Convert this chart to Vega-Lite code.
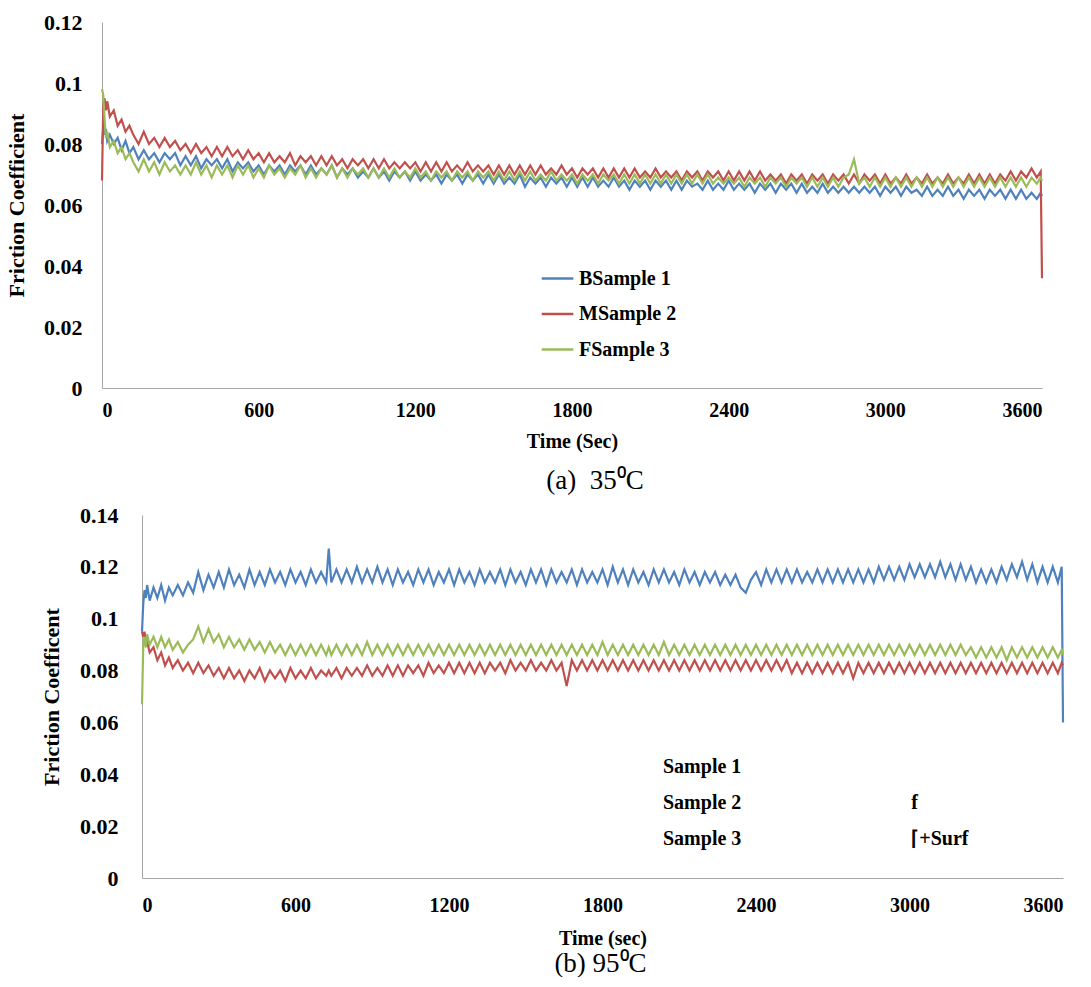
{
"$schema": "https://vega.github.io/schema/vega-lite/v6.json",
"padding": {"left": 0, "top": 11, "right": 0, "bottom": 0},
"spacing": 10,
"resolve": {"scale": {"color": "independent"}, "legend": {"color": "independent"}},
"config": {
 "view": {"stroke": null},
 "axis": {"labelFont": "Liberation Serif", "titleFont": "Liberation Serif", "labelFontWeight": "bold", "titleFontWeight": "bold", "labelColor": "#000", "titleColor": "#000", "ticks": false, "grid": false, "domainColor": "#A6A6A6", "domainWidth": 1},
 "legend": {"labelFont": "Liberation Serif", "labelFontWeight": "bold", "labelFontSize": 20, "labelColor": "#000", "labelLimit": 600},
 "title": {"font": "Liberation Serif", "fontWeight": "normal", "color": "#000"}
},
"datasets": {
"top": [
{"t":0,"S1":0.080,"S2":0.068,"S3":0.098},
{"t":5,"S1":0.086,"S2":0.093,"S3":0.096},
{"t":10,"S1":0.083,"S2":0.095,"S3":0.088},
{"t":15,"S1":0.085,"S2":0.091,"S3":0.082},
{"t":20,"S1":0.081,"S2":0.094,"S3":0.084},
{"t":30,"S1":0.083,"S2":0.089,"S3":0.079},
{"t":45,"S1":0.080,"S2":0.091,"S3":0.081},
{"t":60,"S1":0.082,"S2":0.086,"S3":0.077},
{"t":75,"S1":0.078,"S2":0.088,"S3":0.079},
{"t":90,"S1":0.081,"S2":0.084,"S3":0.075},
{"t":105,"S1":0.077,"S2":0.086,"S3":0.077},
{"t":120,"S1":0.079,"S2":0.083,"S3":0.074},
{"t":140,"S1":0.075,"S2":0.080,"S3":0.071},
{"t":160,"S1":0.078,"S2":0.084,"S3":0.075},
{"t":180,"S1":0.075,"S2":0.080,"S3":0.071},
{"t":200,"S1":0.077,"S2":0.082,"S3":0.074},
{"t":220,"S1":0.074,"S2":0.079,"S3":0.070},
{"t":240,"S1":0.077,"S2":0.082,"S3":0.074},
{"t":260,"S1":0.075,"S2":0.079,"S3":0.071},
{"t":280,"S1":0.077,"S2":0.081,"S3":0.073},
{"t":300,"S1":0.073,"S2":0.078,"S3":0.070},
{"t":320,"S1":0.076,"S2":0.080,"S3":0.073},
{"t":340,"S1":0.073,"S2":0.077,"S3":0.070},
{"t":360,"S1":0.076,"S2":0.080,"S3":0.074},
{"t":380,"S1":0.072,"S2":0.077,"S3":0.070},
{"t":400,"S1":0.075,"S2":0.079,"S3":0.073},
{"t":420,"S1":0.073,"S2":0.076,"S3":0.069},
{"t":440,"S1":0.075,"S2":0.079,"S3":0.073},
{"t":460,"S1":0.072,"S2":0.076,"S3":0.070},
{"t":480,"S1":0.075,"S2":0.079,"S3":0.073},
{"t":500,"S1":0.071,"S2":0.076,"S3":0.069},
{"t":520,"S1":0.074,"S2":0.078,"S3":0.073},
{"t":540,"S1":0.072,"S2":0.075,"S3":0.070},
{"t":560,"S1":0.074,"S2":0.078,"S3":0.073},
{"t":580,"S1":0.071,"S2":0.075,"S3":0.069},
{"t":600,"S1":0.073,"S2":0.077,"S3":0.072},
{"t":620,"S1":0.070,"S2":0.074,"S3":0.069},
{"t":640,"S1":0.073,"S2":0.077,"S3":0.073},
{"t":660,"S1":0.071,"S2":0.074,"S3":0.070},
{"t":680,"S1":0.073,"S2":0.076,"S3":0.072},
{"t":700,"S1":0.070,"S2":0.074,"S3":0.069},
{"t":720,"S1":0.073,"S2":0.077,"S3":0.072},
{"t":740,"S1":0.071,"S2":0.073,"S3":0.070},
{"t":760,"S1":0.073,"S2":0.076,"S3":0.073},
{"t":780,"S1":0.070,"S2":0.074,"S3":0.069},
{"t":800,"S1":0.073,"S2":0.076,"S3":0.072},
{"t":820,"S1":0.070,"S2":0.073,"S3":0.069},
{"t":840,"S1":0.072,"S2":0.076,"S3":0.072},
{"t":860,"S1":0.070,"S2":0.073,"S3":0.070},
{"t":880,"S1":0.073,"S2":0.076,"S3":0.073},
{"t":900,"S1":0.069,"S2":0.073,"S3":0.069},
{"t":920,"S1":0.072,"S2":0.075,"S3":0.072},
{"t":940,"S1":0.070,"S2":0.072,"S3":0.069},
{"t":960,"S1":0.072,"S2":0.075,"S3":0.072},
{"t":980,"S1":0.069,"S2":0.073,"S3":0.070},
{"t":1000,"S1":0.071,"S2":0.075,"S3":0.072},
{"t":1020,"S1":0.069,"S2":0.072,"S3":0.069},
{"t":1040,"S1":0.072,"S2":0.075,"S3":0.072},
{"t":1060,"S1":0.069,"S2":0.072,"S3":0.069},
{"t":1080,"S1":0.071,"S2":0.075,"S3":0.072},
{"t":1100,"S1":0.068,"S2":0.072,"S3":0.069},
{"t":1120,"S1":0.071,"S2":0.074,"S3":0.072},
{"t":1140,"S1":0.069,"S2":0.072,"S3":0.069},
{"t":1160,"S1":0.071,"S2":0.074,"S3":0.071},
{"t":1180,"S1":0.068,"S2":0.072,"S3":0.069},
{"t":1200,"S1":0.071,"S2":0.074,"S3":0.072},
{"t":1220,"S1":0.068,"S2":0.071,"S3":0.069},
{"t":1240,"S1":0.070,"S2":0.074,"S3":0.071},
{"t":1260,"S1":0.068,"S2":0.071,"S3":0.068},
{"t":1280,"S1":0.070,"S2":0.074,"S3":0.071},
{"t":1300,"S1":0.067,"S2":0.071,"S3":0.069},
{"t":1320,"S1":0.070,"S2":0.074,"S3":0.071},
{"t":1340,"S1":0.068,"S2":0.071,"S3":0.068},
{"t":1360,"S1":0.070,"S2":0.073,"S3":0.071},
{"t":1380,"S1":0.067,"S2":0.071,"S3":0.069},
{"t":1400,"S1":0.070,"S2":0.074,"S3":0.071},
{"t":1420,"S1":0.068,"S2":0.071,"S3":0.068},
{"t":1440,"S1":0.070,"S2":0.073,"S3":0.071},
{"t":1460,"S1":0.067,"S2":0.071,"S3":0.069},
{"t":1480,"S1":0.070,"S2":0.073,"S3":0.071},
{"t":1500,"S1":0.067,"S2":0.070,"S3":0.068},
{"t":1520,"S1":0.070,"S2":0.073,"S3":0.071},
{"t":1540,"S1":0.067,"S2":0.070,"S3":0.068},
{"t":1560,"S1":0.069,"S2":0.073,"S3":0.071},
{"t":1580,"S1":0.067,"S2":0.070,"S3":0.068},
{"t":1600,"S1":0.070,"S2":0.073,"S3":0.071},
{"t":1620,"S1":0.066,"S2":0.070,"S3":0.068},
{"t":1640,"S1":0.069,"S2":0.073,"S3":0.071},
{"t":1660,"S1":0.067,"S2":0.070,"S3":0.068},
{"t":1680,"S1":0.069,"S2":0.073,"S3":0.070},
{"t":1700,"S1":0.066,"S2":0.070,"S3":0.068},
{"t":1720,"S1":0.069,"S2":0.072,"S3":0.071},
{"t":1740,"S1":0.067,"S2":0.070,"S3":0.068},
{"t":1760,"S1":0.069,"S2":0.073,"S3":0.070},
{"t":1780,"S1":0.066,"S2":0.070,"S3":0.068},
{"t":1800,"S1":0.069,"S2":0.072,"S3":0.070},
{"t":1820,"S1":0.066,"S2":0.069,"S3":0.067},
{"t":1840,"S1":0.069,"S2":0.072,"S3":0.070},
{"t":1860,"S1":0.066,"S2":0.070,"S3":0.068},
{"t":1880,"S1":0.069,"S2":0.072,"S3":0.070},
{"t":1900,"S1":0.066,"S2":0.069,"S3":0.067},
{"t":1920,"S1":0.068,"S2":0.072,"S3":0.070},
{"t":1940,"S1":0.066,"S2":0.069,"S3":0.068},
{"t":1960,"S1":0.069,"S2":0.072,"S3":0.070},
{"t":1980,"S1":0.066,"S2":0.069,"S3":0.067},
{"t":2000,"S1":0.068,"S2":0.072,"S3":0.070},
{"t":2020,"S1":0.065,"S2":0.069,"S3":0.067},
{"t":2040,"S1":0.068,"S2":0.072,"S3":0.070},
{"t":2060,"S1":0.066,"S2":0.069,"S3":0.067},
{"t":2080,"S1":0.068,"S2":0.071,"S3":0.070},
{"t":2100,"S1":0.065,"S2":0.069,"S3":0.067},
{"t":2120,"S1":0.068,"S2":0.072,"S3":0.070},
{"t":2140,"S1":0.066,"S2":0.069,"S3":0.067},
{"t":2160,"S1":0.068,"S2":0.071,"S3":0.070},
{"t":2180,"S1":0.065,"S2":0.069,"S3":0.067},
{"t":2200,"S1":0.068,"S2":0.071,"S3":0.070},
{"t":2220,"S1":0.065,"S2":0.068,"S3":0.067},
{"t":2240,"S1":0.068,"S2":0.071,"S3":0.070},
{"t":2260,"S1":0.066,"S2":0.069,"S3":0.067},
{"t":2280,"S1":0.067,"S2":0.071,"S3":0.070},
{"t":2300,"S1":0.065,"S2":0.068,"S3":0.067},
{"t":2320,"S1":0.068,"S2":0.071,"S3":0.070},
{"t":2340,"S1":0.065,"S2":0.069,"S3":0.067},
{"t":2360,"S1":0.067,"S2":0.071,"S3":0.069},
{"t":2380,"S1":0.065,"S2":0.068,"S3":0.067},
{"t":2400,"S1":0.068,"S2":0.071,"S3":0.069},
{"t":2420,"S1":0.065,"S2":0.068,"S3":0.067},
{"t":2440,"S1":0.067,"S2":0.071,"S3":0.069},
{"t":2460,"S1":0.065,"S2":0.068,"S3":0.066},
{"t":2480,"S1":0.067,"S2":0.071,"S3":0.069},
{"t":2500,"S1":0.064,"S2":0.068,"S3":0.067},
{"t":2520,"S1":0.067,"S2":0.071,"S3":0.069},
{"t":2540,"S1":0.065,"S2":0.068,"S3":0.066},
{"t":2560,"S1":0.067,"S2":0.070,"S3":0.069},
{"t":2580,"S1":0.064,"S2":0.068,"S3":0.067},
{"t":2600,"S1":0.067,"S2":0.070,"S3":0.069},
{"t":2620,"S1":0.065,"S2":0.067,"S3":0.066},
{"t":2640,"S1":0.067,"S2":0.070,"S3":0.069},
{"t":2660,"S1":0.064,"S2":0.068,"S3":0.067},
{"t":2680,"S1":0.067,"S2":0.070,"S3":0.069},
{"t":2700,"S1":0.064,"S2":0.067,"S3":0.066},
{"t":2720,"S1":0.066,"S2":0.070,"S3":0.069},
{"t":2740,"S1":0.064,"S2":0.068,"S3":0.066},
{"t":2760,"S1":0.067,"S2":0.070,"S3":0.069},
{"t":2780,"S1":0.064,"S2":0.067,"S3":0.066},
{"t":2800,"S1":0.066,"S2":0.070,"S3":0.069},
{"t":2820,"S1":0.064,"S2":0.068,"S3":0.066},
{"t":2840,"S1":0.066,"S2":0.070,"S3":0.069},
{"t":2860,"S1":0.064,"S2":0.067,"S3":0.070},
{"t":2880,"S1":0.066,"S2":0.070,"S3":0.075},
{"t":2900,"S1":0.064,"S2":0.067,"S3":0.067},
{"t":2920,"S1":0.066,"S2":0.070,"S3":0.069},
{"t":2940,"S1":0.064,"S2":0.068,"S3":0.066},
{"t":2960,"S1":0.066,"S2":0.070,"S3":0.069},
{"t":2980,"S1":0.063,"S2":0.067,"S3":0.066},
{"t":3000,"S1":0.066,"S2":0.070,"S3":0.069},
{"t":3020,"S1":0.064,"S2":0.067,"S3":0.066},
{"t":3040,"S1":0.066,"S2":0.069,"S3":0.069},
{"t":3060,"S1":0.063,"S2":0.067,"S3":0.066},
{"t":3080,"S1":0.066,"S2":0.070,"S3":0.069},
{"t":3100,"S1":0.064,"S2":0.067,"S3":0.066},
{"t":3120,"S1":0.065,"S2":0.069,"S3":0.069},
{"t":3140,"S1":0.063,"S2":0.067,"S3":0.066},
{"t":3160,"S1":0.066,"S2":0.070,"S3":0.069},
{"t":3180,"S1":0.063,"S2":0.067,"S3":0.066},
{"t":3200,"S1":0.065,"S2":0.069,"S3":0.069},
{"t":3220,"S1":0.063,"S2":0.067,"S3":0.066},
{"t":3240,"S1":0.066,"S2":0.070,"S3":0.069},
{"t":3260,"S1":0.063,"S2":0.067,"S3":0.066},
{"t":3280,"S1":0.065,"S2":0.069,"S3":0.069},
{"t":3300,"S1":0.062,"S2":0.067,"S3":0.066},
{"t":3320,"S1":0.065,"S2":0.070,"S3":0.069},
{"t":3340,"S1":0.063,"S2":0.067,"S3":0.066},
{"t":3360,"S1":0.065,"S2":0.070,"S3":0.069},
{"t":3380,"S1":0.062,"S2":0.067,"S3":0.066},
{"t":3400,"S1":0.065,"S2":0.070,"S3":0.069},
{"t":3420,"S1":0.063,"S2":0.067,"S3":0.066},
{"t":3440,"S1":0.065,"S2":0.070,"S3":0.069},
{"t":3460,"S1":0.062,"S2":0.068,"S3":0.066},
{"t":3480,"S1":0.065,"S2":0.071,"S3":0.069},
{"t":3500,"S1":0.062,"S2":0.068,"S3":0.066},
{"t":3520,"S1":0.065,"S2":0.071,"S3":0.069},
{"t":3540,"S1":0.062,"S2":0.069,"S3":0.066},
{"t":3560,"S1":0.064,"S2":0.072,"S3":0.069},
{"t":3580,"S1":0.062,"S2":0.069,"S3":0.067},
{"t":3595,"S1":0.064,"S2":0.071,"S3":0.069},
{"t":3600,"S1":0.063,"S2":0.036,"S3":0.068}
],
"bottom": [
{"t":0,"S1":0.095,"S2":0.095,"S3":0.067},
{"t":5,"S1":0.106,"S2":0.093,"S3":0.090},
{"t":10,"S1":0.111,"S2":0.095,"S3":0.093},
{"t":15,"S1":0.108,"S2":0.090,"S3":0.089},
{"t":20,"S1":0.113,"S2":0.091,"S3":0.094},
{"t":30,"S1":0.107,"S2":0.087,"S3":0.090},
{"t":45,"S1":0.112,"S2":0.089,"S3":0.093},
{"t":60,"S1":0.108,"S2":0.084,"S3":0.089},
{"t":75,"S1":0.113,"S2":0.087,"S3":0.093},
{"t":90,"S1":0.107,"S2":0.082,"S3":0.089},
{"t":105,"S1":0.112,"S2":0.085,"S3":0.092},
{"t":120,"S1":0.109,"S2":0.081,"S3":0.088},
{"t":140,"S1":0.113,"S2":0.084,"S3":0.091},
{"t":160,"S1":0.109,"S2":0.080,"S3":0.087},
{"t":180,"S1":0.114,"S2":0.083,"S3":0.090},
{"t":200,"S1":0.110,"S2":0.079,"S3":0.092},
{"t":220,"S1":0.118,"S2":0.083,"S3":0.097},
{"t":240,"S1":0.111,"S2":0.079,"S3":0.091},
{"t":260,"S1":0.117,"S2":0.082,"S3":0.096},
{"t":280,"S1":0.112,"S2":0.078,"S3":0.091},
{"t":300,"S1":0.118,"S2":0.081,"S3":0.094},
{"t":320,"S1":0.112,"S2":0.077,"S3":0.089},
{"t":340,"S1":0.119,"S2":0.081,"S3":0.093},
{"t":360,"S1":0.113,"S2":0.077,"S3":0.089},
{"t":380,"S1":0.117,"S2":0.080,"S3":0.092},
{"t":400,"S1":0.112,"S2":0.076,"S3":0.088},
{"t":420,"S1":0.119,"S2":0.080,"S3":0.092},
{"t":440,"S1":0.113,"S2":0.077,"S3":0.088},
{"t":460,"S1":0.118,"S2":0.081,"S3":0.091},
{"t":480,"S1":0.113,"S2":0.076,"S3":0.087},
{"t":500,"S1":0.119,"S2":0.080,"S3":0.091},
{"t":520,"S1":0.114,"S2":0.077,"S3":0.087},
{"t":540,"S1":0.118,"S2":0.080,"S3":0.090},
{"t":560,"S1":0.113,"S2":0.076,"S3":0.086},
{"t":580,"S1":0.119,"S2":0.081,"S3":0.090},
{"t":600,"S1":0.114,"S2":0.077,"S3":0.086},
{"t":620,"S1":0.118,"S2":0.080,"S3":0.090},
{"t":640,"S1":0.113,"S2":0.077,"S3":0.086},
{"t":660,"S1":0.119,"S2":0.081,"S3":0.090},
{"t":680,"S1":0.114,"S2":0.077,"S3":0.086},
{"t":700,"S1":0.118,"S2":0.080,"S3":0.090},
{"t":720,"S1":0.114,"S2":0.078,"S3":0.086},
{"t":730,"S1":0.127,"S2":0.080,"S3":0.089},
{"t":740,"S1":0.114,"S2":0.078,"S3":0.086},
{"t":760,"S1":0.119,"S2":0.081,"S3":0.090},
{"t":780,"S1":0.114,"S2":0.077,"S3":0.086},
{"t":800,"S1":0.119,"S2":0.081,"S3":0.090},
{"t":820,"S1":0.114,"S2":0.078,"S3":0.086},
{"t":840,"S1":0.120,"S2":0.081,"S3":0.090},
{"t":860,"S1":0.114,"S2":0.078,"S3":0.086},
{"t":880,"S1":0.119,"S2":0.082,"S3":0.091},
{"t":900,"S1":0.114,"S2":0.078,"S3":0.086},
{"t":920,"S1":0.120,"S2":0.081,"S3":0.090},
{"t":940,"S1":0.114,"S2":0.078,"S3":0.086},
{"t":960,"S1":0.119,"S2":0.082,"S3":0.090},
{"t":980,"S1":0.113,"S2":0.078,"S3":0.086},
{"t":1000,"S1":0.119,"S2":0.082,"S3":0.090},
{"t":1020,"S1":0.114,"S2":0.078,"S3":0.086},
{"t":1040,"S1":0.118,"S2":0.082,"S3":0.090},
{"t":1060,"S1":0.113,"S2":0.079,"S3":0.086},
{"t":1080,"S1":0.119,"S2":0.082,"S3":0.090},
{"t":1100,"S1":0.114,"S2":0.078,"S3":0.086},
{"t":1120,"S1":0.119,"S2":0.083,"S3":0.090},
{"t":1140,"S1":0.113,"S2":0.079,"S3":0.086},
{"t":1160,"S1":0.118,"S2":0.082,"S3":0.090},
{"t":1180,"S1":0.114,"S2":0.079,"S3":0.086},
{"t":1200,"S1":0.119,"S2":0.083,"S3":0.090},
{"t":1220,"S1":0.113,"S2":0.079,"S3":0.086},
{"t":1240,"S1":0.119,"S2":0.083,"S3":0.090},
{"t":1260,"S1":0.114,"S2":0.079,"S3":0.086},
{"t":1280,"S1":0.118,"S2":0.083,"S3":0.090},
{"t":1300,"S1":0.113,"S2":0.079,"S3":0.086},
{"t":1320,"S1":0.119,"S2":0.083,"S3":0.090},
{"t":1340,"S1":0.114,"S2":0.079,"S3":0.086},
{"t":1360,"S1":0.118,"S2":0.083,"S3":0.090},
{"t":1380,"S1":0.114,"S2":0.080,"S3":0.086},
{"t":1400,"S1":0.119,"S2":0.083,"S3":0.090},
{"t":1420,"S1":0.113,"S2":0.079,"S3":0.086},
{"t":1440,"S1":0.119,"S2":0.084,"S3":0.090},
{"t":1460,"S1":0.114,"S2":0.080,"S3":0.086},
{"t":1480,"S1":0.118,"S2":0.083,"S3":0.090},
{"t":1500,"S1":0.113,"S2":0.080,"S3":0.086},
{"t":1520,"S1":0.119,"S2":0.084,"S3":0.090},
{"t":1540,"S1":0.114,"S2":0.080,"S3":0.086},
{"t":1560,"S1":0.119,"S2":0.083,"S3":0.090},
{"t":1580,"S1":0.113,"S2":0.080,"S3":0.086},
{"t":1600,"S1":0.119,"S2":0.084,"S3":0.090},
{"t":1620,"S1":0.114,"S2":0.080,"S3":0.086},
{"t":1640,"S1":0.118,"S2":0.083,"S3":0.090},
{"t":1660,"S1":0.114,"S2":0.074,"S3":0.086},
{"t":1680,"S1":0.119,"S2":0.084,"S3":0.090},
{"t":1700,"S1":0.113,"S2":0.080,"S3":0.086},
{"t":1720,"S1":0.119,"S2":0.084,"S3":0.090},
{"t":1740,"S1":0.114,"S2":0.080,"S3":0.086},
{"t":1760,"S1":0.118,"S2":0.084,"S3":0.090},
{"t":1780,"S1":0.114,"S2":0.080,"S3":0.086},
{"t":1800,"S1":0.119,"S2":0.084,"S3":0.091},
{"t":1820,"S1":0.113,"S2":0.080,"S3":0.086},
{"t":1840,"S1":0.120,"S2":0.084,"S3":0.090},
{"t":1860,"S1":0.114,"S2":0.080,"S3":0.086},
{"t":1880,"S1":0.119,"S2":0.084,"S3":0.090},
{"t":1900,"S1":0.113,"S2":0.080,"S3":0.086},
{"t":1920,"S1":0.119,"S2":0.084,"S3":0.090},
{"t":1940,"S1":0.114,"S2":0.080,"S3":0.086},
{"t":1960,"S1":0.118,"S2":0.084,"S3":0.090},
{"t":1980,"S1":0.113,"S2":0.080,"S3":0.086},
{"t":2000,"S1":0.119,"S2":0.084,"S3":0.090},
{"t":2020,"S1":0.114,"S2":0.080,"S3":0.086},
{"t":2040,"S1":0.119,"S2":0.084,"S3":0.091},
{"t":2060,"S1":0.114,"S2":0.080,"S3":0.086},
{"t":2080,"S1":0.118,"S2":0.084,"S3":0.090},
{"t":2100,"S1":0.113,"S2":0.080,"S3":0.086},
{"t":2120,"S1":0.119,"S2":0.084,"S3":0.090},
{"t":2140,"S1":0.114,"S2":0.080,"S3":0.086},
{"t":2160,"S1":0.118,"S2":0.084,"S3":0.090},
{"t":2180,"S1":0.113,"S2":0.080,"S3":0.086},
{"t":2200,"S1":0.118,"S2":0.084,"S3":0.090},
{"t":2220,"S1":0.114,"S2":0.080,"S3":0.086},
{"t":2240,"S1":0.118,"S2":0.084,"S3":0.090},
{"t":2260,"S1":0.113,"S2":0.080,"S3":0.086},
{"t":2280,"S1":0.117,"S2":0.084,"S3":0.090},
{"t":2300,"S1":0.113,"S2":0.080,"S3":0.086},
{"t":2320,"S1":0.117,"S2":0.084,"S3":0.090},
{"t":2340,"S1":0.112,"S2":0.080,"S3":0.086},
{"t":2360,"S1":0.110,"S2":0.084,"S3":0.090},
{"t":2380,"S1":0.115,"S2":0.080,"S3":0.086},
{"t":2400,"S1":0.118,"S2":0.084,"S3":0.090},
{"t":2420,"S1":0.113,"S2":0.080,"S3":0.086},
{"t":2440,"S1":0.119,"S2":0.084,"S3":0.090},
{"t":2460,"S1":0.114,"S2":0.080,"S3":0.086},
{"t":2480,"S1":0.119,"S2":0.084,"S3":0.090},
{"t":2500,"S1":0.114,"S2":0.080,"S3":0.086},
{"t":2520,"S1":0.119,"S2":0.084,"S3":0.090},
{"t":2540,"S1":0.114,"S2":0.079,"S3":0.086},
{"t":2560,"S1":0.119,"S2":0.083,"S3":0.090},
{"t":2580,"S1":0.114,"S2":0.079,"S3":0.086},
{"t":2600,"S1":0.118,"S2":0.083,"S3":0.090},
{"t":2620,"S1":0.114,"S2":0.079,"S3":0.086},
{"t":2640,"S1":0.119,"S2":0.083,"S3":0.090},
{"t":2660,"S1":0.114,"S2":0.079,"S3":0.086},
{"t":2680,"S1":0.119,"S2":0.083,"S3":0.090},
{"t":2700,"S1":0.114,"S2":0.079,"S3":0.086},
{"t":2720,"S1":0.119,"S2":0.083,"S3":0.090},
{"t":2740,"S1":0.114,"S2":0.079,"S3":0.086},
{"t":2760,"S1":0.119,"S2":0.083,"S3":0.090},
{"t":2780,"S1":0.114,"S2":0.077,"S3":0.086},
{"t":2800,"S1":0.119,"S2":0.083,"S3":0.090},
{"t":2820,"S1":0.114,"S2":0.079,"S3":0.086},
{"t":2840,"S1":0.119,"S2":0.083,"S3":0.090},
{"t":2860,"S1":0.114,"S2":0.079,"S3":0.086},
{"t":2880,"S1":0.120,"S2":0.083,"S3":0.090},
{"t":2900,"S1":0.115,"S2":0.079,"S3":0.086},
{"t":2920,"S1":0.120,"S2":0.083,"S3":0.090},
{"t":2940,"S1":0.115,"S2":0.079,"S3":0.086},
{"t":2960,"S1":0.120,"S2":0.083,"S3":0.090},
{"t":2980,"S1":0.115,"S2":0.079,"S3":0.086},
{"t":3000,"S1":0.121,"S2":0.083,"S3":0.090},
{"t":3020,"S1":0.116,"S2":0.079,"S3":0.086},
{"t":3040,"S1":0.121,"S2":0.083,"S3":0.090},
{"t":3060,"S1":0.116,"S2":0.079,"S3":0.086},
{"t":3080,"S1":0.121,"S2":0.083,"S3":0.090},
{"t":3100,"S1":0.116,"S2":0.079,"S3":0.086},
{"t":3120,"S1":0.122,"S2":0.083,"S3":0.090},
{"t":3140,"S1":0.116,"S2":0.079,"S3":0.086},
{"t":3160,"S1":0.121,"S2":0.083,"S3":0.090},
{"t":3180,"S1":0.115,"S2":0.079,"S3":0.086},
{"t":3200,"S1":0.121,"S2":0.083,"S3":0.090},
{"t":3220,"S1":0.115,"S2":0.079,"S3":0.086},
{"t":3240,"S1":0.120,"S2":0.083,"S3":0.089},
{"t":3260,"S1":0.114,"S2":0.079,"S3":0.085},
{"t":3280,"S1":0.119,"S2":0.083,"S3":0.089},
{"t":3300,"S1":0.114,"S2":0.079,"S3":0.085},
{"t":3320,"S1":0.119,"S2":0.083,"S3":0.089},
{"t":3340,"S1":0.114,"S2":0.079,"S3":0.085},
{"t":3360,"S1":0.120,"S2":0.083,"S3":0.089},
{"t":3380,"S1":0.115,"S2":0.079,"S3":0.084},
{"t":3400,"S1":0.121,"S2":0.083,"S3":0.089},
{"t":3420,"S1":0.116,"S2":0.079,"S3":0.085},
{"t":3440,"S1":0.122,"S2":0.083,"S3":0.089},
{"t":3460,"S1":0.115,"S2":0.079,"S3":0.085},
{"t":3480,"S1":0.121,"S2":0.083,"S3":0.089},
{"t":3500,"S1":0.114,"S2":0.079,"S3":0.085},
{"t":3520,"S1":0.120,"S2":0.083,"S3":0.089},
{"t":3540,"S1":0.114,"S2":0.079,"S3":0.085},
{"t":3560,"S1":0.120,"S2":0.083,"S3":0.089},
{"t":3580,"S1":0.114,"S2":0.079,"S3":0.085},
{"t":3595,"S1":0.120,"S2":0.083,"S3":0.088},
{"t":3600,"S1":0.060,"S2":0.082,"S3":0.086}
]
},
"vconcat": [
{
 "spacing": 0,
 "resolve": {"scale": {"color": "independent"}, "legend": {"color": "independent"}},
 "hconcat": [
  {"width": 1, "height": 1, "data": {"values": []}, "mark": "point"},
  {
   "width": 940, "height": 366,
   "title": {"text": "(a)\u00a0 35⁰C", "orient": "bottom", "anchor": "middle", "frame": "group", "fontSize": 27, "offset": 17, "dx": 23},
   "data": {"name": "top"},
   "transform": [{"fold": ["S1", "S2", "S3"], "as": ["series", "value"]}],
   "mark": {"type": "line", "strokeWidth": 2.2},
   "encoding": {
    "x": {"field": "t", "type": "quantitative", "scale": {"domain": [0, 3600], "nice": false}, "axis": {"values": [0, 600, 1200, 1800, 2400, 3000, 3600], "format": "d", "title": "Time (Sec)", "labelFontSize": 20, "titleFontSize": 20, "labelPadding": 12, "titlePadding": 11}},
    "y": {"field": "value", "type": "quantitative", "scale": {"domain": [0, 0.12], "nice": false}, "axis": {"values": [0, 0.02, 0.04, 0.06, 0.08, 0.1, 0.12], "labelExpr": "'' + datum.value", "title": "Friction Coefficient", "labelFontSize": 22, "titleFontSize": 22, "labelPadding": 20, "minExtent": 101, "titleX": -74}},
    "color": {"field": "series", "type": "nominal", "scale": {"domain": ["S1", "S2", "S3"], "range": ["#4F81BD", "#C0504D", "#9BBB59"]}, "legend": {"orient": "none", "legendX": 438, "legendY": 239, "title": null, "symbolType": "stroke", "symbolSize": 1000, "symbolStrokeWidth": 2.5, "rowPadding": 7.5, "labelExpr": "datum.label == 'S1' ? 'BSample 1' : datum.label == 'S2' ? 'MSample 2' : 'FSample 3'"}}
   }
  }
 ]
},
{
 "spacing": 0,
 "resolve": {"scale": {"color": "independent"}, "legend": {"color": "independent"}},
 "hconcat": [
  {"width": 1, "height": 1, "data": {"values": []}, "mark": "point"},
  {
   "width": 921, "height": 363,
   "title": {"text": "(b) 95⁰C", "orient": "bottom", "anchor": "middle", "frame": "group", "fontSize": 27, "offset": 3, "dx": -2},
   "data": {"name": "bottom"},
   "transform": [{"fold": ["S1", "S2", "S3"], "as": ["series", "value"]}],
   "mark": {"type": "line", "strokeWidth": 2.2},
   "encoding": {
    "x": {"field": "t", "type": "quantitative", "scale": {"domain": [0, 3600], "nice": false}, "axis": {"values": [0, 600, 1200, 1800, 2400, 3000, 3600], "format": "d", "title": "Time (sec)", "labelFontSize": 20, "titleFontSize": 20, "labelPadding": 17, "titlePadding": 13}},
    "y": {"field": "value", "type": "quantitative", "scale": {"domain": [0, 0.14], "nice": false}, "axis": {"values": [0, 0.02, 0.04, 0.06, 0.08, 0.1, 0.12, 0.14], "labelExpr": "'' + datum.value", "title": "Friction Coefficent", "labelFontSize": 22, "titleFontSize": 22, "labelPadding": 24, "minExtent": 141, "titleX": -79}},
    "color": {"field": "series", "type": "nominal", "scale": {"domain": ["S1", "S2", "S3"], "range": ["#4F81BD", "#C0504D", "#9BBB59"]}, "legend": {"orient": "none", "legendX": 485, "legendY": 236, "title": null, "symbolType": "stroke", "symbolSize": 1000, "symbolOpacity": 0, "symbolStrokeWidth": 0, "rowPadding": 10, "labelExpr": "datum.label == 'S1' ? 'Sample 1' : datum.label == 'S2' ? pad('Sample 2', 42, '\u00a0') + 'f' : pad('Sample 3', 42, '\u00a0') + '⌈+Surf'"}}
   }
  }
 ]
}
]
}
